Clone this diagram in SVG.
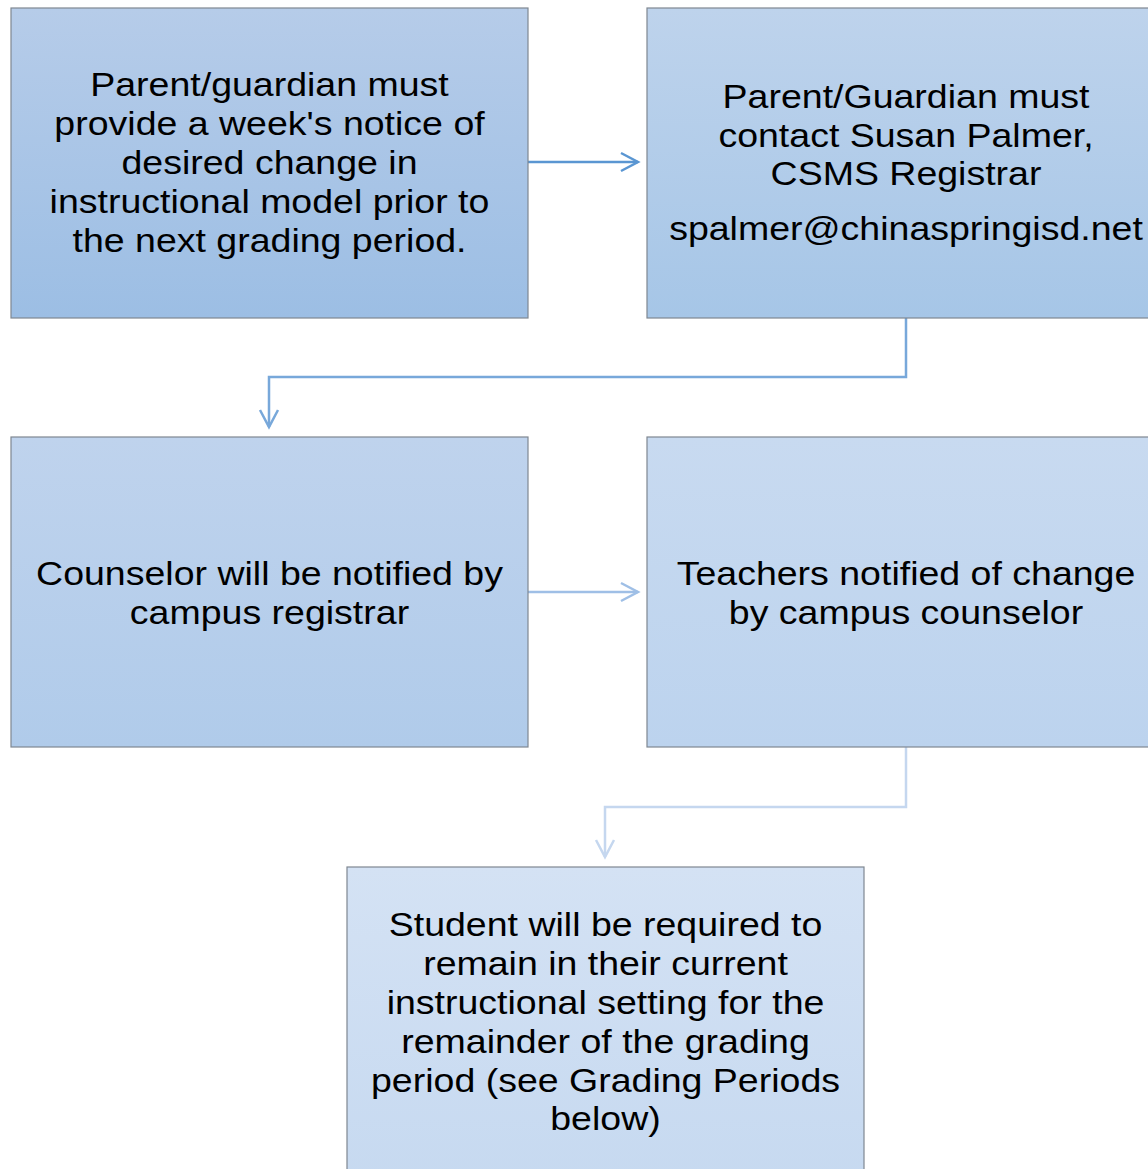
<svg xmlns="http://www.w3.org/2000/svg" width="1148" height="1169" viewBox="0 0 1148 1169">
<defs>
<linearGradient id="g1" x1="0" y1="0" x2="0" y2="1"><stop offset="0" stop-color="#b6cce9"/><stop offset="1" stop-color="#9cbee4"/></linearGradient>
<linearGradient id="g2" x1="0" y1="0" x2="0" y2="1"><stop offset="0" stop-color="#bed3ec"/><stop offset="1" stop-color="#a6c6e7"/></linearGradient>
<linearGradient id="g3" x1="0" y1="0" x2="0" y2="1"><stop offset="0" stop-color="#bfd3ed"/><stop offset="1" stop-color="#b0cbea"/></linearGradient>
<linearGradient id="g4" x1="0" y1="0" x2="0" y2="1"><stop offset="0" stop-color="#c8daf0"/><stop offset="1" stop-color="#bcd3ee"/></linearGradient>
<linearGradient id="g5" x1="0" y1="0" x2="0" y2="1"><stop offset="0" stop-color="#d4e2f4"/><stop offset="1" stop-color="#c6d9f0"/></linearGradient>
</defs>
<style>
.box{stroke:#7f8791;stroke-width:1.2}
.t{font-family:"Liberation Sans",Arial,sans-serif;font-size:33.5px;fill:#000;text-anchor:middle}
.c{fill:none;stroke-width:2.5}
</style>
<g id="connectors">
<g stroke="#5a96d2" class="c"><path d="M528,162 H638"/><path d="M621,153 L638,162 L621,171"/></g>
<g stroke="#78a8da" class="c"><path d="M906,318 V377 H269 V427"/><path d="M260,410 L269,427 L278,410"/></g>
<g stroke="#9fbfe6" class="c"><path d="M528,592 H638"/><path d="M621,583 L638,592 L621,601"/></g>
<g stroke="#c5d7ef" class="c"><path d="M906,747 V807 H605 V857"/><path d="M596,840 L605,857 L614,840"/></g>
</g>
<g id="n1"><rect class="box" x="11" y="8" width="517" height="310" fill="url(#g1)"/>
<text class="t" transform="translate(269.5 0) scale(1.12 1)"><tspan x="0" y="96">Parent/guardian must</tspan><tspan x="0" y="135">provide a week's notice of</tspan><tspan x="0" y="174">desired change in</tspan><tspan x="0" y="213">instructional model prior to</tspan><tspan x="0" y="252">the next grading period.</tspan></text></g>
<g id="n2"><rect class="box" x="647" y="8" width="518" height="310" fill="url(#g2)"/>
<text class="t" transform="translate(906 0) scale(1.12 1)"><tspan x="0" y="108">Parent/Guardian must</tspan><tspan x="0" y="147">contact Susan Palmer,</tspan><tspan x="0" y="185">CSMS Registrar</tspan><tspan x="0" y="240">spalmer@chinaspringisd.net</tspan></text></g>
<g id="n3"><rect class="box" x="11" y="437" width="517" height="310" fill="url(#g3)"/>
<text class="t" transform="translate(269.5 0) scale(1.12 1)"><tspan x="0" y="585">Counselor will be notified by</tspan><tspan x="0" y="624">campus registrar</tspan></text></g>
<g id="n4"><rect class="box" x="647" y="437" width="518" height="310" fill="url(#g4)"/>
<text class="t" transform="translate(906 0) scale(1.12 1)"><tspan x="0" y="585">Teachers notified of change</tspan><tspan x="0" y="624">by campus counselor</tspan></text></g>
<g id="n5"><rect class="box" x="347" y="867" width="517" height="320" fill="url(#g5)"/>
<text class="t" transform="translate(605.5 0) scale(1.12 1)"><tspan x="0" y="936">Student will be required to</tspan><tspan x="0" y="975">remain in their current</tspan><tspan x="0" y="1014">instructional setting for the</tspan><tspan x="0" y="1053">remainder of the grading</tspan><tspan x="0" y="1092">period (see Grading Periods</tspan><tspan x="0" y="1130">below)</tspan></text></g>
</svg>
